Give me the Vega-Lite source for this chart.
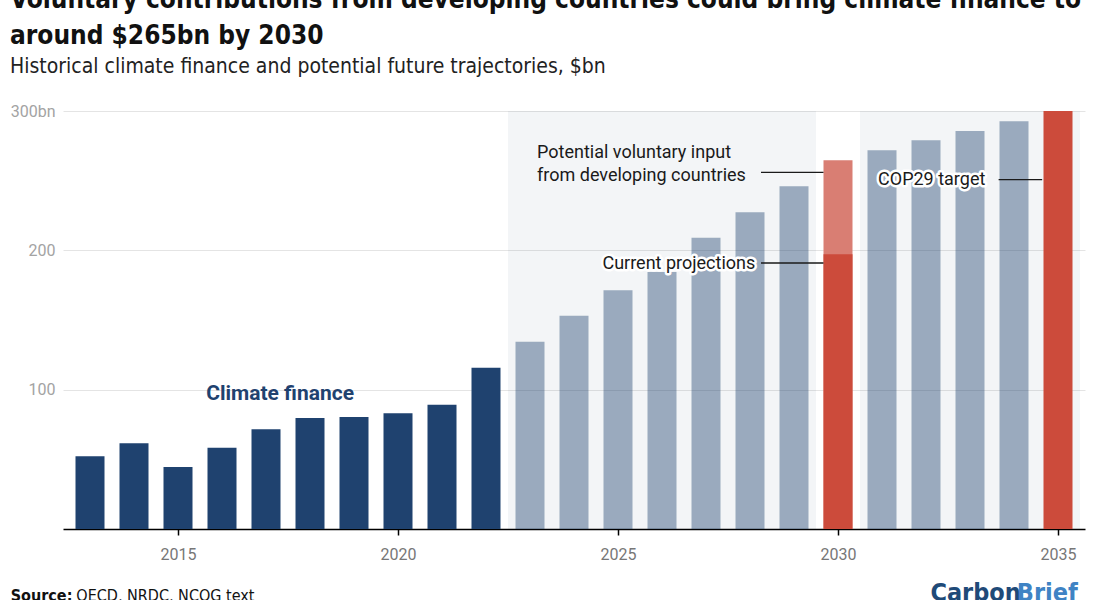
{
  "$schema": "https://vega.github.io/schema/vega-lite/v6.json",
  "width": 1022,
  "height": 418,
  "autosize": {"type": "none"},
  "padding": {"left": 63, "top": 111, "right": 10, "bottom": 71},
  "background": "white",
  "title": {
    "text": ["Voluntary contributions from developing countries could bring climate finance to", "around $265bn by 2030"],
    "subtitle": "Historical climate finance and potential future trajectories, $bn",
    "anchor": "start",
    "frame": "group",
    "orient": "top",
    "dx": -53,
    "offset": 26,
    "font": "DejaVu Sans Condensed, DejaVu Sans, sans-serif",
    "fontSize": 26,
    "fontWeight": "bold",
    "lineHeight": 36,
    "color": "#111111",
    "subtitleFont": "DejaVu Sans Condensed, DejaVu Sans, sans-serif",
    "subtitleFontSize": 21,
    "subtitleColor": "#222222",
    "subtitlePadding": 7
  },
  "layer": [
    {
      "data": {"values": [{"start": 2022.5, "end": 2029.5}, {"start": 2030.5, "end": 2035.5}]},
      "mark": {"type": "rect", "color": "#1f426f", "opacity": 0.055},
      "encoding": {
        "x": {"field": "start", "type": "quantitative", "title": null, "scale": {"domain": [2012.5, 2035.5], "nice": false, "zero": false},
              "axis": {"values": [2015, 2020, 2025, 2030, 2035], "format": "d", "grid": false, "domainColor": "#000000", "domainWidth": 1.5, "tickColor": "#000000", "tickWidth": 1.5, "tickSize": 6, "labelFont": "Roboto", "labelFontSize": 16, "labelColor": "#777777", "labelPadding": 11}},
        "x2": {"field": "end"},
        "y": {"datum": 300, "type": "quantitative", "title": null, "scale": {"domain": [0, 300], "nice": false},
              "axis": {"values": [100, 200, 300], "labelExpr": "datum.value == 300 ? '300bn' : datum.label", "domain": false, "ticks": false, "grid": true, "gridColor": "#e4e4e4", "gridWidth": 1, "labelFont": "Roboto", "labelFontSize": 16, "labelColor": "#a3a3a3", "labelPadding": 8}},
        "y2": {"datum": 0}
      }
    },
    {
      "data": {"values": [
        {"year": 2013, "value": 52.2, "series": "Climate finance"},
        {"year": 2014, "value": 61.5, "series": "Climate finance"},
        {"year": 2015, "value": 44.5, "series": "Climate finance"},
        {"year": 2016, "value": 58.4, "series": "Climate finance"},
        {"year": 2017, "value": 71.6, "series": "Climate finance"},
        {"year": 2018, "value": 79.7, "series": "Climate finance"},
        {"year": 2019, "value": 80.4, "series": "Climate finance"},
        {"year": 2020, "value": 83.0, "series": "Climate finance"},
        {"year": 2021, "value": 89.2, "series": "Climate finance"},
        {"year": 2022, "value": 115.8, "series": "Climate finance"},
        {"year": 2023, "value": 134.4, "series": "Projection"},
        {"year": 2024, "value": 153.0, "series": "Projection"},
        {"year": 2025, "value": 171.4, "series": "Projection"},
        {"year": 2026, "value": 184.4, "series": "Projection"},
        {"year": 2027, "value": 209.0, "series": "Projection"},
        {"year": 2028, "value": 227.4, "series": "Projection"},
        {"year": 2029, "value": 246.0, "series": "Projection"},
        {"year": 2030, "value": 264.7, "series": "Potential voluntary input"},
        {"year": 2030, "value": 197.2, "series": "Current projections"},
        {"year": 2031, "value": 271.9, "series": "Projection"},
        {"year": 2032, "value": 279.0, "series": "Projection"},
        {"year": 2033, "value": 285.7, "series": "Projection"},
        {"year": 2034, "value": 292.6, "series": "Projection"},
        {"year": 2035, "value": 300.0, "series": "COP29 target"}
      ]},
      "mark": {"type": "bar", "width": 29, "orient": "vertical"},
      "encoding": {
        "x": {"field": "year", "type": "quantitative", "title": null, "scale": {"domain": [2012.5, 2035.5], "nice": false, "zero": false}},
        "y": {"field": "value", "type": "quantitative", "title": null, "stack": null, "scale": {"domain": [0, 300], "nice": false}},
        "color": {"field": "series", "type": "nominal", "legend": null,
                  "scale": {"domain": ["Climate finance", "Projection", "Potential voluntary input", "Current projections", "COP29 target"],
                            "range": ["#1f426f", "#1f426f", "#d97e73", "#cc4b3b", "#cc4b3b"]}},
        "opacity": {"condition": {"test": "datum.series == 'Projection'", "value": 0.42}, "value": 1}
      }
    },
    {
      "data": {"values": [
        {"from": 2028.25, "to": 2029.67, "value": 255.9},
        {"from": 2028.25, "to": 2029.67, "value": 190.9},
        {"from": 2033.65, "to": 2034.64, "value": 250.8}
      ]},
      "mark": {"type": "rule", "color": "#1a1a1a", "strokeWidth": 1.3},
      "encoding": {
        "x": {"field": "from", "type": "quantitative", "title": null, "scale": {"domain": [2012.5, 2035.5], "nice": false, "zero": false}},
        "x2": {"field": "to"},
        "y": {"field": "value", "type": "quantitative", "title": null, "scale": {"domain": [0, 300], "nice": false}}
      }
    },
    {
      "data": {"values": [
        {"label": "Potential voluntary input\nfrom developing countries", "year": 2023.16, "value": 266.6}
      ]},
      "mark": {"type": "text", "align": "left", "baseline": "alphabetic", "lineBreak": "\n", "lineHeight": 23.5, "font": "Roboto", "fontSize": 18, "color": "#1a1a1a"},
      "encoding": {
        "x": {"field": "year", "type": "quantitative", "title": null, "scale": {"domain": [2012.5, 2035.5], "nice": false, "zero": false}},
        "y": {"field": "value", "type": "quantitative", "title": null, "scale": {"domain": [0, 300], "nice": false}},
        "text": {"field": "label"}
      }
    },
    {
      "data": {"values": [
        {"label": "Current projections", "year": 2028.12, "value": 186.3}
      ]},
      "layer": [
        {"mark": {"type": "text", "align": "right", "baseline": "alphabetic", "font": "Roboto", "fontSize": 18, "color": "#ffffff", "stroke": "#ffffff", "strokeWidth": 5, "strokeJoin": "round"}},
        {"mark": {"type": "text", "align": "right", "baseline": "alphabetic", "font": "Roboto", "fontSize": 18, "color": "#1a1a1a"}}
      ],
      "encoding": {
        "x": {"field": "year", "type": "quantitative", "title": null, "scale": {"domain": [2012.5, 2035.5], "nice": false, "zero": false}},
        "y": {"field": "value", "type": "quantitative", "title": null, "scale": {"domain": [0, 300], "nice": false}},
        "text": {"field": "label"}
      }
    },
    {
      "data": {"values": [
        {"label": "COP29 target", "year": 2030.91, "value": 246.8}
      ]},
      "layer": [
        {"mark": {"type": "text", "align": "left", "baseline": "alphabetic", "font": "Roboto", "fontSize": 18, "color": "#ffffff", "stroke": "#ffffff", "strokeWidth": 5, "strokeJoin": "round"}},
        {"mark": {"type": "text", "align": "left", "baseline": "alphabetic", "font": "Roboto", "fontSize": 18, "color": "#1a1a1a"}}
      ],
      "encoding": {
        "x": {"field": "year", "type": "quantitative", "title": null, "scale": {"domain": [2012.5, 2035.5], "nice": false, "zero": false}},
        "y": {"field": "value", "type": "quantitative", "title": null, "scale": {"domain": [0, 300], "nice": false}},
        "text": {"field": "label"}
      }
    },
    {
      "data": {"values": [
        {"label": "Climate finance", "year": 2017.32, "value": 92.7}
      ]},
      "mark": {"type": "text", "align": "center", "baseline": "alphabetic", "font": "Roboto", "fontSize": 21, "fontWeight": "bold", "color": "#1f426f"},
      "encoding": {
        "x": {"field": "year", "type": "quantitative", "title": null, "scale": {"domain": [2012.5, 2035.5], "nice": false, "zero": false}},
        "y": {"field": "value", "type": "quantitative", "title": null, "scale": {"domain": [0, 300], "nice": false}},
        "text": {"field": "label"}
      }
    },
    {
      "data": {"values": [
        {"label": "Source:", "year": 2012.6, "value": -51.5}
      ]},
      "mark": {"type": "text", "align": "right", "baseline": "alphabetic", "font": "DejaVu Sans Condensed, DejaVu Sans, sans-serif", "fontSize": 16, "fontWeight": "bold", "color": "#111111"},
      "encoding": {
        "x": {"field": "year", "type": "quantitative", "title": null, "scale": {"domain": [2012.5, 2035.5], "nice": false, "zero": false}},
        "y": {"field": "value", "type": "quantitative", "title": null, "scale": {"domain": [0, 300], "nice": false}},
        "text": {"field": "label"}
      }
    },
    {
      "data": {"values": [
        {"label": "OECD, NRDC, NCQG text", "year": 2012.69, "value": -51.5}
      ]},
      "mark": {"type": "text", "align": "left", "baseline": "alphabetic", "font": "DejaVu Sans Condensed, DejaVu Sans, sans-serif", "fontSize": 16, "color": "#111111"},
      "encoding": {
        "x": {"field": "year", "type": "quantitative", "title": null, "scale": {"domain": [2012.5, 2035.5], "nice": false, "zero": false}},
        "y": {"field": "value", "type": "quantitative", "title": null, "scale": {"domain": [0, 300], "nice": false}},
        "text": {"field": "label"}
      }
    },
    {
      "data": {"values": [
        {"label": "Carbon", "year": 2032.1, "value": -51.8}
      ]},
      "mark": {"type": "text", "align": "left", "baseline": "alphabetic", "font": "DejaVu Sans Condensed, DejaVu Sans, sans-serif", "fontSize": 25, "fontWeight": "bold", "color": "#1f4a78"},
      "encoding": {
        "x": {"field": "year", "type": "quantitative", "title": null, "scale": {"domain": [2012.5, 2035.5], "nice": false, "zero": false}},
        "y": {"field": "value", "type": "quantitative", "title": null, "scale": {"domain": [0, 300], "nice": false}},
        "text": {"field": "label"}
      }
    },
    {
      "data": {"values": [
        {"label": "Brief", "year": 2035.45, "value": -51.8}
      ]},
      "mark": {"type": "text", "align": "right", "baseline": "alphabetic", "font": "DejaVu Sans Condensed, DejaVu Sans, sans-serif", "fontSize": 25, "fontWeight": "bold", "color": "#3f83c4"},
      "encoding": {
        "x": {"field": "year", "type": "quantitative", "title": null, "scale": {"domain": [2012.5, 2035.5], "nice": false, "zero": false}},
        "y": {"field": "value", "type": "quantitative", "title": null, "scale": {"domain": [0, 300], "nice": false}},
        "text": {"field": "label"}
      }
    }
  ],
  "config": {"view": {"stroke": null}}
}
